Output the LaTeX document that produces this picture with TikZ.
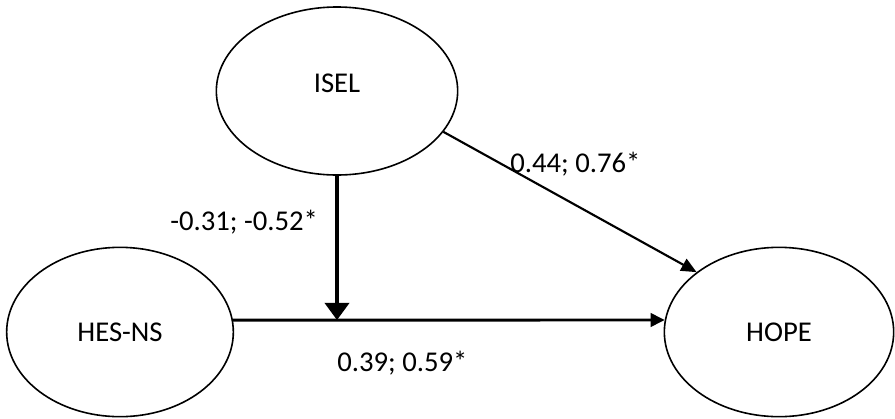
\documentclass[tikz,border=0pt]{standalone}
\usepackage{fontspec}
\setmainfont{Carlito}
\usetikzlibrary{arrows.meta,shapes.geometric}

\begin{document}
\begin{tikzpicture}[x=0.75pt,y=-0.75pt,font=\fontsize{21.5}{26}\selectfont,
    construct/.style={draw,ellipse,line width=1.2pt,inner sep=0pt},
    coef/.style={inner sep=0pt,anchor=base west}]
            \useasboundingbox (0,0) rectangle (895,418);
            \node [construct,minimum width=181pt,minimum height=126pt,text depth=12pt] (isel) at (337,91) {ISEL};
            \node [construct,minimum width=170pt,minimum height=127pt] (hes) at (120,332) {HES-NS};
            \node [construct,minimum width=172pt,minimum height=127pt] (hope) at (779,332) {HOPE};
            \coordinate (join) at (isel.south |- hes.6);
            \draw [-{Triangle[length=10.5pt,width=10pt]},line width=2.2pt] (hes.6) -- (hope.174);
            \draw [-{Triangle[length=13pt,width=18pt]},line width=3.6pt] (isel.south) -- (join);
            \draw [-{Triangle[length=11.5pt,width=10pt]},line width=1.6pt] (isel.-21) -- (hope.144);
            \node [coef] (c-isel-hope) at (510,172) {0.44; 0.76*};
            \node [coef] (c-mod) at (170,230) {-0.31; -0.52*};
            \node [coef] (c-hes-hope) at (337,371) {0.39; 0.59*};
        \end{tikzpicture}
\end{document}
